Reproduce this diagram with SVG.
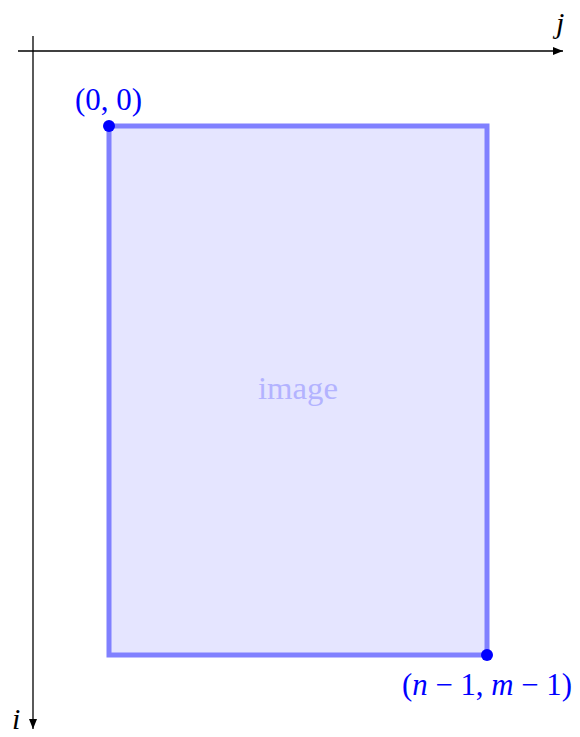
<svg xmlns="http://www.w3.org/2000/svg" width="580" height="737" viewBox="0 0 580 737">
<style>
.axis{stroke:#000;stroke-width:1.3;fill:none}
.lbl{font-family:"Liberation Serif","DejaVu Serif",serif;font-size:31px;fill:#0000ff}
.ax{font-family:"Liberation Serif","DejaVu Serif",serif;font-size:30px;font-style:italic;fill:#000}
</style>
<defs>
<marker id="arr" viewBox="0 0 10 10" refX="10" refY="5" markerWidth="10" markerHeight="10" markerUnits="userSpaceOnUse" orient="auto">
<path d="M0,1 L10,5 L0,9 Z" fill="#000"/>
</marker>
</defs>
<g id="connectors">
<line class="axis" x1="18" y1="51" x2="563" y2="51" marker-end="url(#arr)"/>
<line class="axis" x1="33" y1="36" x2="33" y2="729" marker-end="url(#arr)"/>
</g>
<g id="axis-j"><text class="ax" x="556" y="33">j</text></g>
<g id="axis-i"><text class="ax" x="12" y="729">i</text></g>
<g id="image">
<rect x="109" y="126" width="378" height="529" fill="#e5e5ff" stroke="#8080ff" stroke-width="5"/>
<text x="298" y="399" text-anchor="middle" font-family="Liberation Serif, DejaVu Serif, serif" font-size="31" fill="#b3b3ff" textLength="80" lengthAdjust="spacingAndGlyphs">image</text>
</g>
<g id="origin">
<circle cx="109" cy="126" r="6" fill="#0000ff"/>
<text class="lbl" x="75" y="110" textLength="67" lengthAdjust="spacingAndGlyphs">(0, 0)</text>
</g>
<g id="corner">
<circle cx="487" cy="655" r="6" fill="#0000ff"/>
<text class="lbl" x="402" y="695" textLength="170" lengthAdjust="spacingAndGlyphs">(<tspan font-style="italic">n</tspan> − 1, <tspan font-style="italic">m</tspan> − 1)</text>
</g>
</svg>
